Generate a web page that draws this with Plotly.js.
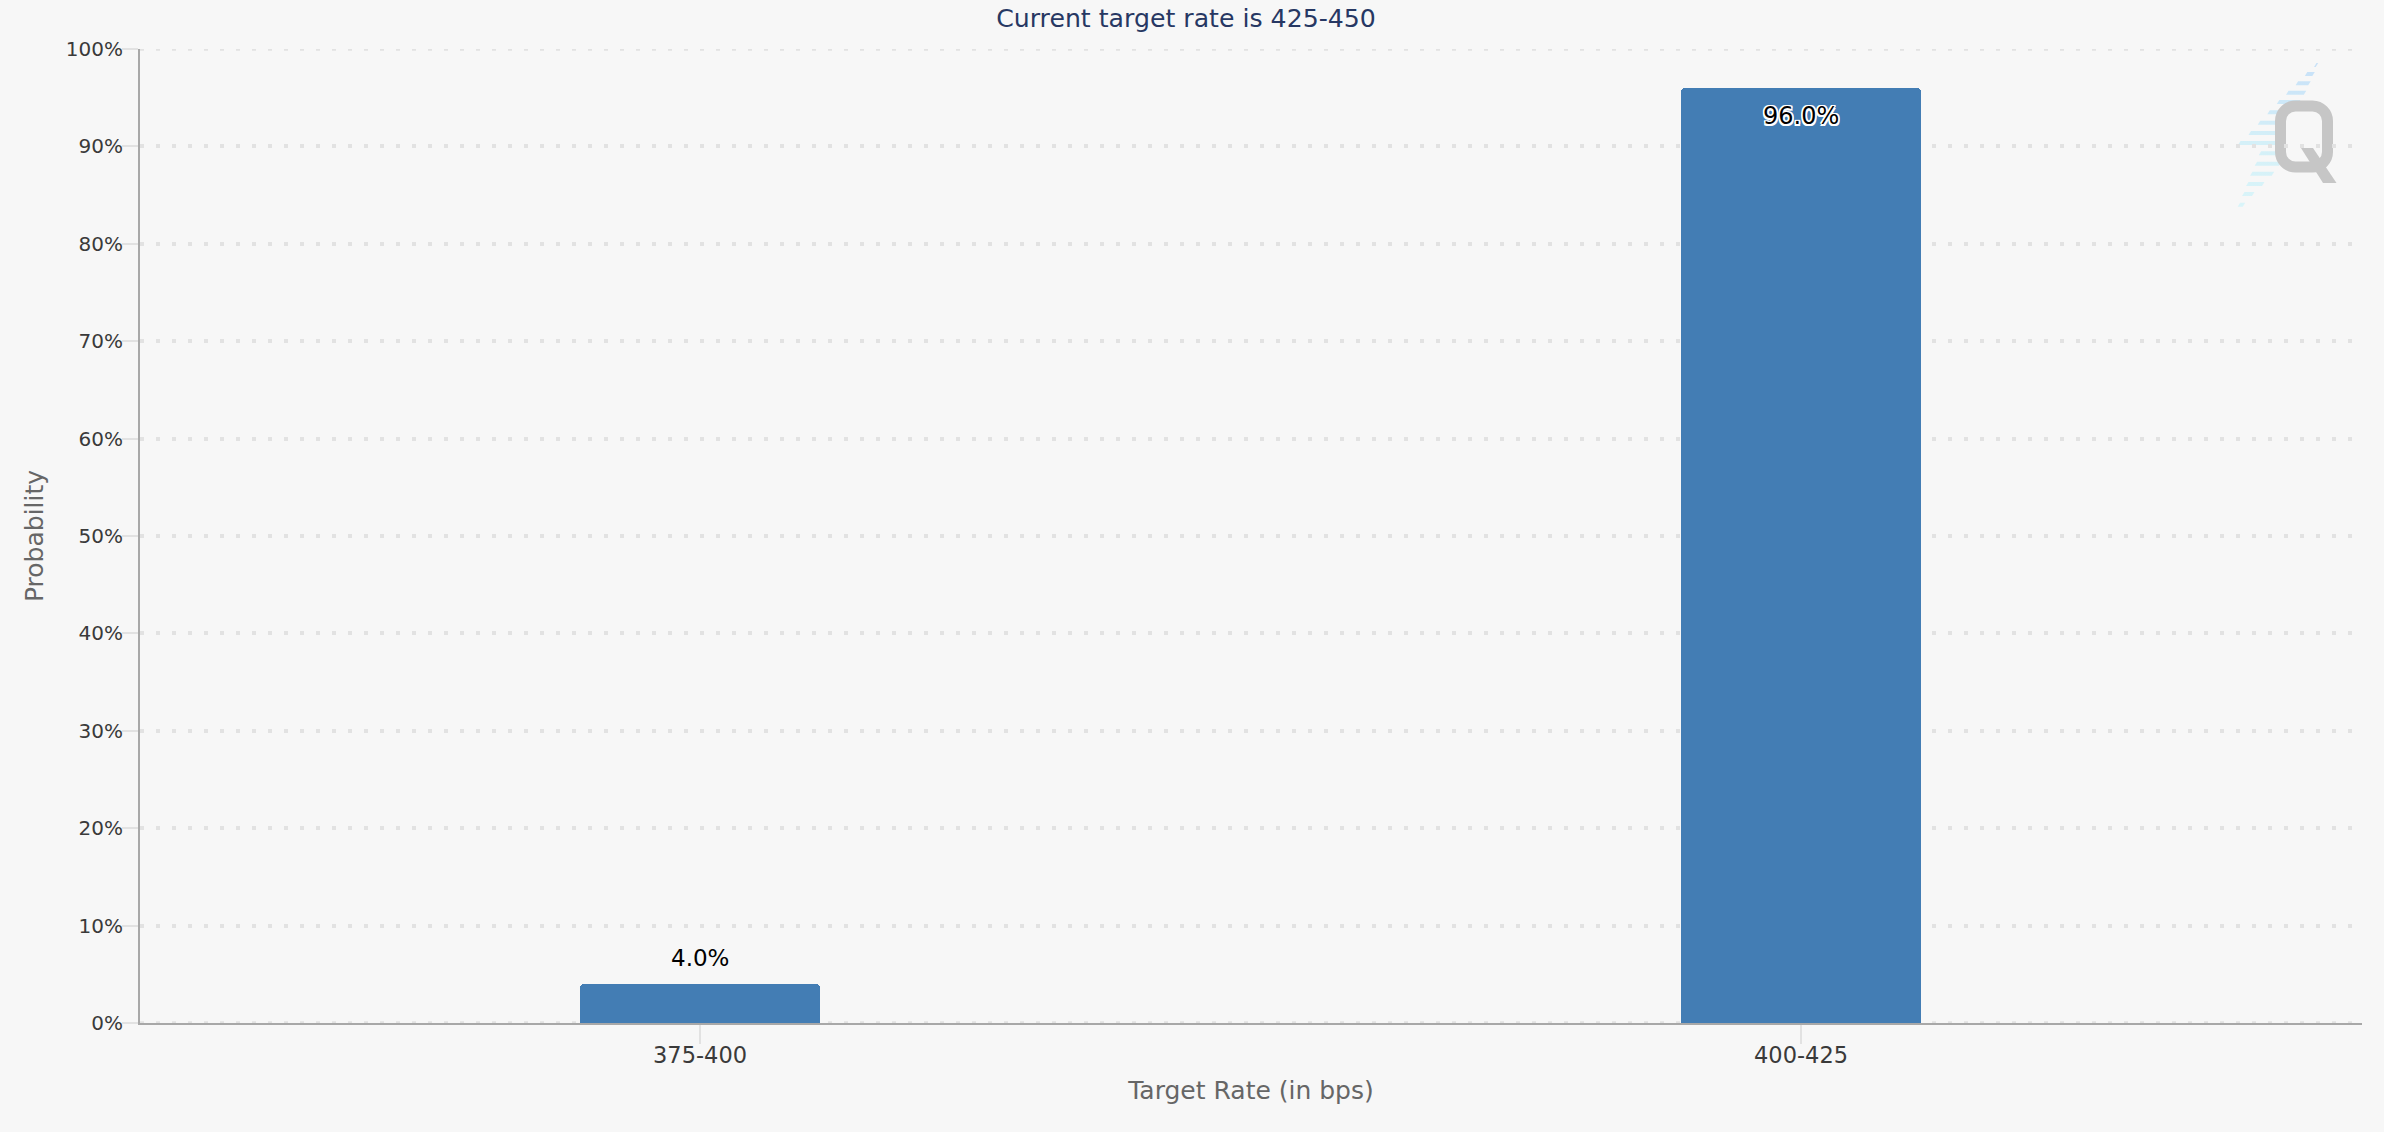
<!DOCTYPE html>
<html>
<head>
<meta charset="utf-8">
<script src="https://cdn.plot.ly/plotly-3.0.1.min.js"></script>
<style>html,body{margin:0;padding:0;background:#f7f7f7;overflow:hidden}</style>
</head>
<body>
<div id="chart" style="width:2384px;height:1132px"></div>
<script>
const categories = ['375-400', '400-425'];
const probabilities = [4.0, 96.0];
const yTickValues = [0, 10, 20, 30, 40, 50, 60, 70, 80, 90, 100];
const yTickLabels = ['0%', '10%', '20%', '30%', '40%', '50%', '60%', '70%', '80%', '90%', '100%'];
const chartTitle = 'Current target rate is 425-450';
const xTitle = 'Target Rate (in bps)';
const yTitle = 'Probability';

const W = 2384, H = 1132, L = 140, R = 2362, T = 49, B = 1023;
const FONT = '"DejaVu Sans", Verdana, sans-serif';
const BG = '#f7f7f7';
const GRID = '#e2e2e2';
const GRID_DASH = '4px,12px';

// watermark logo
const stripes = [[10,85,86.7],[19,75.8,83.3],[28.3,66.6,79.2],[37.7,57,74.8],[47,47.8,69],[57.3,38.3,58.7],[67.7,28.7,48.5],[78,19.5,46.8],[88,9,46.8],[98.3,29.7,46.8],[108.7,25.6,50],[118.7,21,42.7],[129,17,33],[139,13,23],[149.7,8.6,13.7]];
const stripeSvg = stripes.map(s => {
  const [y, a, b] = s;
  return `<path d="M${a+1.5} ${y-2}H${b+1.5}L${b-1} ${y+2}H${a-1}Z" fill="url(#g)"/>`;
}).join('');
const logo = `<svg xmlns="http://www.w3.org/2000/svg" width="120" height="160" viewBox="0 0 120 160">
<defs><linearGradient id="g" gradientUnits="userSpaceOnUse" x1="0" y1="0" x2="0" y2="160"><stop offset="0" stop-color="#c6dff8"/><stop offset="0.55" stop-color="#d4f0f8"/><stop offset="1" stop-color="#daf5f9"/></linearGradient>
<filter id="b"><feGaussianBlur stdDeviation="0.7"/></filter></defs>
<g filter="url(#b)">${stripeSvg}
<rect x="50.5" y="51" width="47" height="61" rx="15" ry="15" fill="${BG}" stroke="#c6c6c6" stroke-width="11"/>
<path d="M71 93H83L106.5 128H93Z" fill="#c6c6c6"/></g></svg>`;

const trace = {
  type: 'bar',
  x: categories,
  y: probabilities,
  width: 240 / 1101,
  marker: {color: '#437db4', cornerradius: 4, line: {width: 0}},
  hoverinfo: 'x+y'
};

const halo = '-1.5px -1.5px 0 #fff,1.5px -1.5px 0 #fff,-1.5px 1.5px 0 #fff,1.5px 1.5px 0 #fff,0 -1.5px 0 #fff,0 1.5px 0 #fff,-1.5px 0 0 #fff,1.5px 0 0 #fff';
const annotations = categories.map((c, i) => ({
  x: c,
  y: probabilities[i],
  xref: 'x',
  yref: 'y',
  text: probabilities[i].toFixed(1) + '%',
  showarrow: false,
  yanchor: 'middle',
  xanchor: 'center',
  yshift: probabilities[i] > 50 ? -28 : 26,
  font: {family: FONT, size: probabilities[i] > 50 ? 24 : 23, color: '#000', shadow: probabilities[i] > 50 ? halo : 'none'}
}));

// Plotly drops gridlines lying on the axis ends, so the two end lines are drawn as dashed shapes.
const endGridShapes = [yTickValues[0], yTickValues[yTickValues.length - 1]].map(v => ({
  type: 'line',
  xref: 'paper',
  yref: 'y',
  x0: 0,
  x1: 1,
  y0: v,
  y1: v,
  layer: 'below',
  line: {color: GRID, width: 3.5, dash: GRID_DASH}
}));

const layout = {
  width: W,
  height: H,
  margin: {l: L, r: W - R, t: T, b: H - B, pad: 0},
  paper_bgcolor: BG,
  plot_bgcolor: 'rgba(0,0,0,0)',
  showlegend: false,
  bargap: 0,
  font: {family: FONT},
  title: {
    text: chartTitle,
    x: 1186 / W,
    xanchor: 'center',
    xref: 'container',
    y: 1 - 18 / H,
    yanchor: 'middle',
    yref: 'container',
    font: {family: FONT, size: 25.2, color: '#273863'}
  },
  xaxis: {
    type: 'category',
    range: [(L - 700) / 1101, (R - 700) / 1101],
    showgrid: false,
    showline: true,
    linecolor: '#a8a8a8',
    linewidth: 2,
    zeroline: false,
    ticks: 'outside',
    ticklen: 19,
    tickwidth: 2,
    tickcolor: '#e2e2e2',
    ticklabelstandoff: -8,
    tickfont: {family: FONT, size: 22.5, color: '#3a3a3a'},
    title: {text: xTitle, standoff: 14, font: {family: FONT, size: 25, color: '#666'}}
  },
  yaxis: {
    range: [0, 100],
    tickvals: yTickValues,
    ticktext: yTickLabels,
    showgrid: true,
    gridcolor: GRID,
    gridwidth: 3.5,
    griddash: GRID_DASH,
    showline: true,
    linecolor: '#a8a8a8',
    linewidth: 2,
    zeroline: false,
    ticks: 'outside',
    ticklen: 16,
    tickwidth: 2,
    tickcolor: '#e2e2e2',
    ticklabelstandoff: -5,
    tickfont: {family: FONT, size: 20, color: '#3a3a3a'},
    title: {text: yTitle, standoff: 15, font: {family: FONT, size: 25, color: '#666'}}
  },
  shapes: endGridShapes,
  annotations: annotations,
  images: [{
    source: 'data:image/svg+xml;charset=utf-8,' + encodeURIComponent(logo),
    xref: 'paper',
    yref: 'paper',
    x: (2230 - L) / (R - L),
    y: (B - 55) / (B - T),
    sizex: 120 / (R - L),
    sizey: 160 / (B - T),
    xanchor: 'left',
    yanchor: 'top',
    sizing: 'stretch',
    layer: 'below'
  }]
};

Plotly.newPlot('chart', [trace], layout, {displayModeBar: false, responsive: false});
</script>
</body>
</html>
